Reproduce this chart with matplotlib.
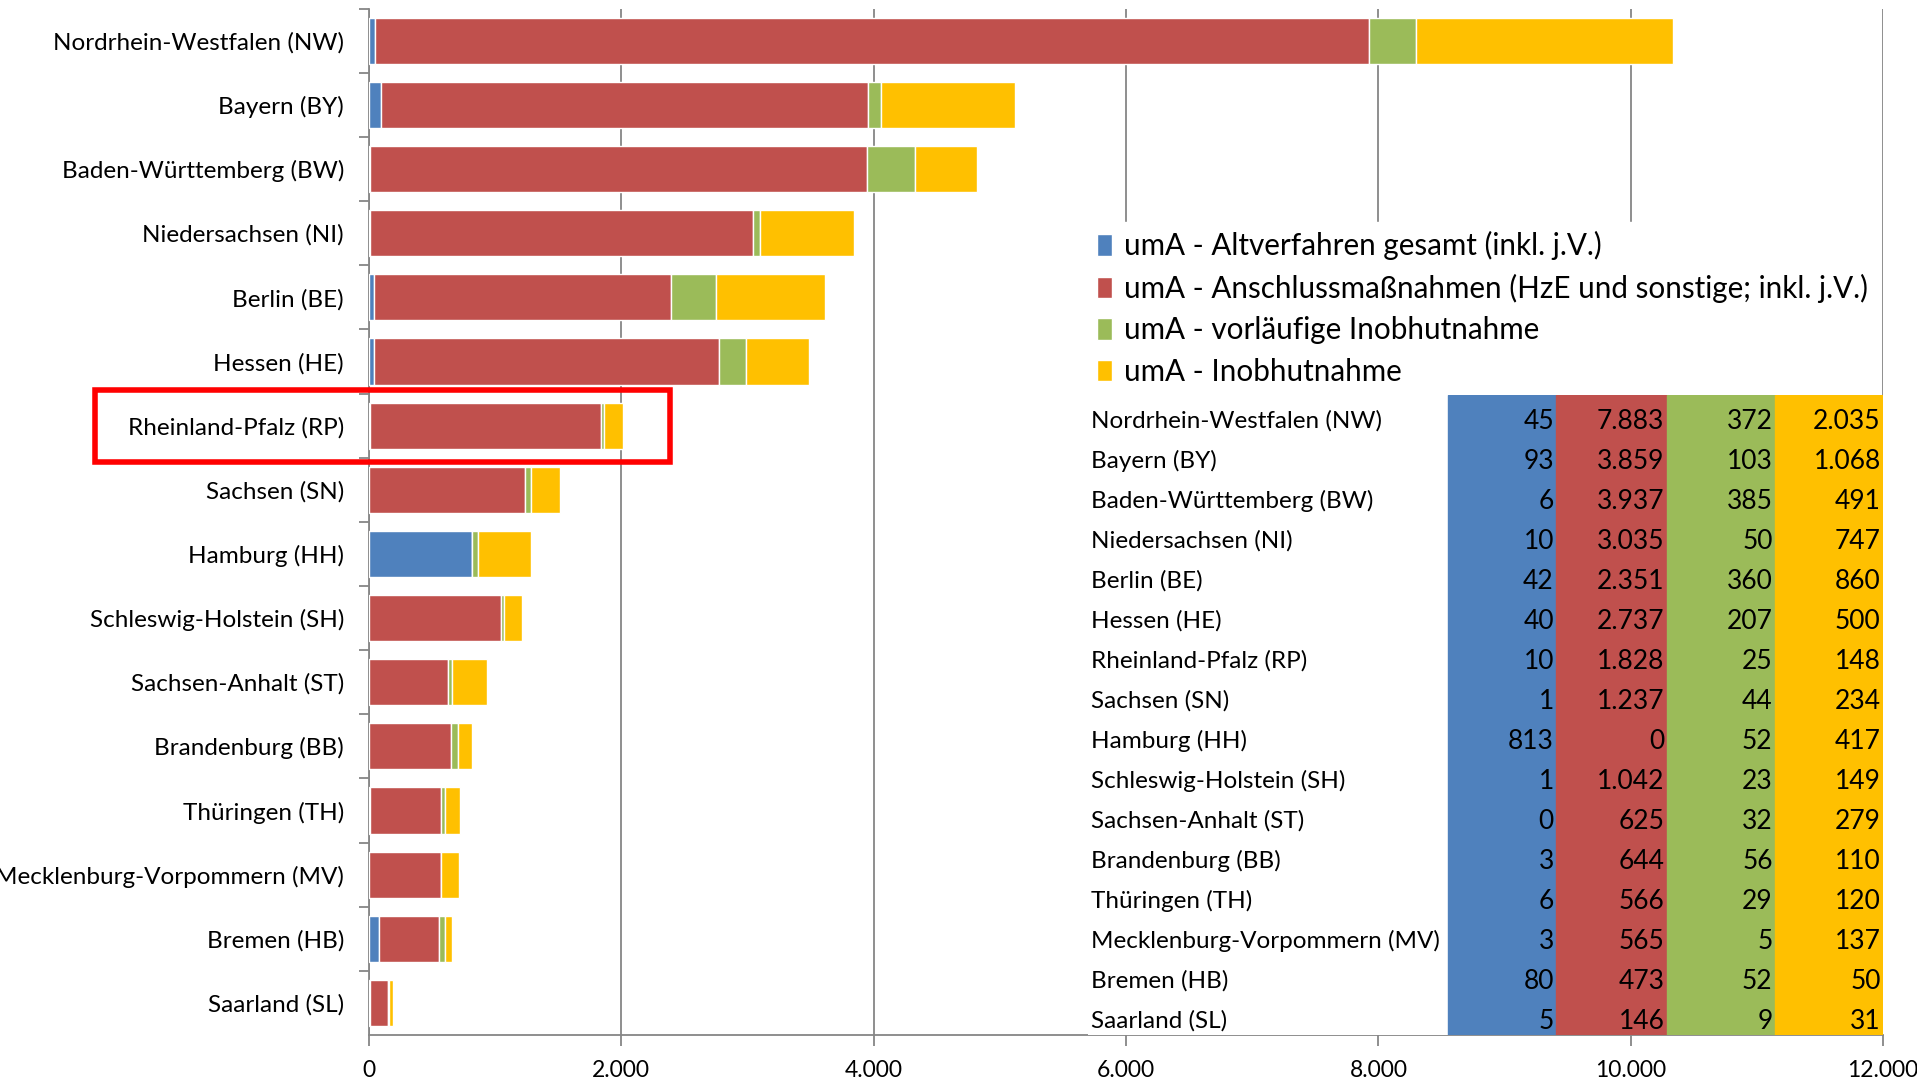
import matplotlib
matplotlib.use("Agg")
import matplotlib.pyplot as plt
import matplotlib.transforms as mtransforms
from matplotlib.patches import Rectangle
from matplotlib.ticker import MultipleLocator, FuncFormatter

plt.rcParams['font.family'] = ['Lato', 'DejaVu Sans']

# Bundesländer, top to bottom
laender = ["Nordrhein-Westfalen (NW)", "Bayern (BY)", "Baden-Württemberg (BW)",
           "Niedersachsen (NI)", "Berlin (BE)", "Hessen (HE)", "Rheinland-Pfalz (RP)",
           "Sachsen (SN)", "Hamburg (HH)", "Schleswig-Holstein (SH)",
           "Sachsen-Anhalt (ST)", "Brandenburg (BB)", "Thüringen (TH)",
           "Mecklenburg-Vorpommern (MV)", "Bremen (HB)", "Saarland (SL)"]

altverfahren = [45, 93, 6, 10, 42, 40, 10, 1, 813, 1, 0, 3, 6, 3, 80, 5]
anschluss = [7883, 3859, 3937, 3035, 2351, 2737, 1828, 1237, 0, 1042, 625, 644, 566, 565, 473, 146]
vorlaeufig = [372, 103, 385, 50, 360, 207, 25, 44, 52, 23, 32, 56, 29, 5, 52, 9]
inobhut = [2035, 1068, 491, 747, 860, 500, 148, 234, 417, 149, 279, 110, 120, 137, 50, 31]

serien = ["umA - Altverfahren gesamt (inkl. j.V.)",
          "umA - Anschlussmaßnahmen (HzE und sonstige; inkl. j.V.)",
          "umA - vorläufige Inobhutnahme",
          "umA - Inobhutnahme"]
farben = ["#4F81BD", "#C0504D", "#9BBB59", "#FFC000"]
hervorgehoben = "Rheinland-Pfalz (RP)"


def de_format(v):
    return f"{int(v):,}".replace(",", ".")


fig = plt.figure(figsize=(19.17, 10.81), dpi=100)
ax = fig.add_axes([0.1925, 0.0425, 0.7898, 0.9495])

werte = [altverfahren, anschluss, vorlaeufig, inobhut]
pos = list(range(len(laender)))
links = [0] * len(laender)
handles = []
for name, w, c in zip(serien, werte, farben):
    b = ax.barh(pos, w, left=links, height=0.72, color=c, edgecolor="white",
                linewidth=1, label=name, zorder=3)
    handles.append(b)
    links = [l + v for l, v in zip(links, w)]

ax.set_xlim(0, 12000)
ax.set_ylim(len(laender) - 0.5, -0.5)
ax.xaxis.set_major_locator(MultipleLocator(2000))
ax.xaxis.set_major_formatter(FuncFormatter(lambda v, p: de_format(v)))
ax.grid(axis="x", color="#868686", linewidth=1.3, zorder=0)

ax.set_yticks(pos)
ax.set_yticklabels(laender)
ax.set_yticks([p + 0.5 for p in pos[:-1]] + [-0.5], minor=True)
ax.tick_params(axis="y", which="major", length=0, pad=18, labelsize=17.5)
ax.tick_params(axis="y", which="minor", length=7, width=1.3, color="#868686")
ax.tick_params(axis="x", length=8, width=1.3, color="#868686", pad=10, labelsize=16.5)

for s in ["top", "right"]:
    ax.spines[s].set_visible(False)
ax.spines["left"].set_color("#868686")
ax.spines["bottom"].set_color("#868686")
ax.spines["left"].set_linewidth(1.3)
ax.spines["bottom"].set_linewidth(1.3)

# Legende
leg = ax.legend(handles=handles, loc="upper left", bbox_to_anchor=(0.5676, 1 - 222 / 1081),
                bbox_transform=fig.transFigure, frameon=True, fontsize=21.3,
                handlelength=0.5, handleheight=0.75, handletextpad=0.4,
                labelspacing=0.46, borderpad=0.3, borderaxespad=0)
leg.get_frame().set_facecolor("white")
leg.get_frame().set_edgecolor("white")
leg.get_frame().set_alpha(1)
leg.set_zorder(5)

# Markierung Rheinland-Pfalz
i_rp = laender.index(hervorgehoben)
trans = mtransforms.blended_transform_factory(fig.transFigure, ax.transData)
ax.add_patch(Rectangle((0.0496, i_rp + 0.56), 0.3, -1.12, transform=trans,
                       fill=False, edgecolor="#FF0000", linewidth=4, clip_on=False, zorder=6))

# Datentabelle
tab = fig.add_axes([0.5676, 0.0425, 0.4147, 0.592])
tab.set_zorder(4)
tab.set_facecolor("white")
tab.set_xlim(0, 1)
tab.set_ylim(len(laender) - 0.5, -0.5)
tab.axis("off")
tab.add_patch(Rectangle((0, 0), 1, 1, transform=tab.transAxes, color="white", zorder=0))
grenzen = [0.453, 0.589, 0.728, 0.864, 1.0]
for k, (w, c) in enumerate(zip(werte, farben)):
    tab.axvspan(grenzen[k], grenzen[k + 1], color=c, zorder=1)
    for r, v in enumerate(w):
        tab.text(grenzen[k + 1] - 0.003, r + 0.15, de_format(v), ha="right", va="center",
                 fontsize=19, color="black", zorder=2)
for r, name in enumerate(laender):
    tab.text(0.004, r + 0.15, name, ha="left", va="center", fontsize=17.5, zorder=2)

fig.savefig("out.png", dpi=100)
